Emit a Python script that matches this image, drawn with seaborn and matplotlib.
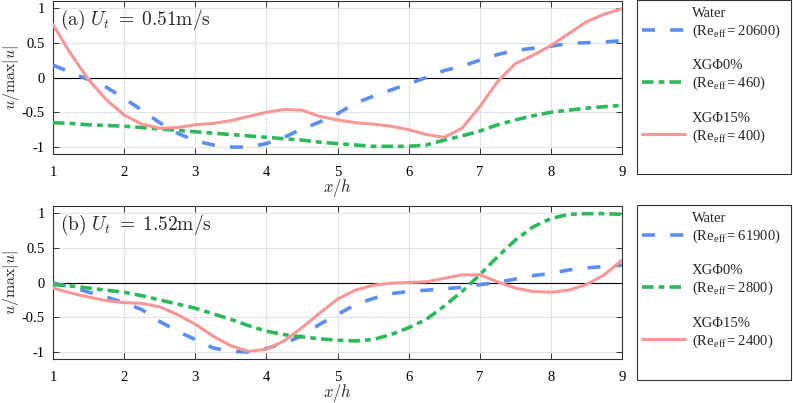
"""Normalised velocity profiles u/max|u| along x/h for two tip speeds."""

import matplotlib

matplotlib.use("Agg")

import matplotlib.pyplot as plt
import pandas as pd
import seaborn as sns
from matplotlib.patches import Rectangle

# --- data -------------------------------------------------------------------
x_pos = [1.0, 1.25, 1.5, 1.75, 2.0, 2.25, 2.5, 2.75, 3.0, 3.25, 3.5, 3.75, 4.0,
         4.25, 4.5, 4.75, 5.0, 5.25, 5.5, 5.75, 6.0, 6.25, 6.5, 6.75, 7.0,
         7.25, 7.5, 7.75, 8.0, 8.25, 8.5, 8.75, 9.0]

# panel (a), U_t = 0.51 m/s
water_a = [0.18, 0.07, -0.03, -0.14, -0.3, -0.47, -0.65, -0.8, -0.91, -0.97,
           -1.0, -1.0, -0.95, -0.86, -0.74, -0.64, -0.52, -0.37, -0.27, -0.18,
           -0.09, 0.0, 0.1, 0.16, 0.25, 0.33, 0.39, 0.42, 0.45, 0.49, 0.5,
           0.51, 0.53]
xg0_a = [-0.65, -0.66, -0.68, -0.69, -0.7, -0.72, -0.74, -0.76, -0.78, -0.8,
         -0.82, -0.84, -0.86, -0.88, -0.9, -0.93, -0.95, -0.97, -0.99, -0.99,
         -0.99, -0.97, -0.9, -0.84, -0.77, -0.68, -0.61, -0.55, -0.5, -0.47,
         -0.44, -0.42, -0.4]
xg15_a = [0.76, 0.34, -0.03, -0.32, -0.54, -0.67, -0.73, -0.72, -0.68, -0.66,
          -0.62, -0.56, -0.5, -0.46, -0.47, -0.56, -0.61, -0.65, -0.67, -0.7,
          -0.75, -0.82, -0.86, -0.73, -0.42, -0.06, 0.2, 0.32, 0.46, 0.63,
          0.8, 0.91, 0.99]

# panel (b), U_t = 1.52 m/s
water_b = [-0.01, -0.06, -0.14, -0.21, -0.29, -0.39, -0.56, -0.7, -0.82, -0.94,
           -0.99, -1.0, -0.95, -0.87, -0.77, -0.6, -0.46, -0.32, -0.23, -0.16,
           -0.13, -0.11, -0.09, -0.07, -0.03, 0.0, 0.05, 0.1, 0.13, 0.18, 0.21,
           0.23, 0.25]
xg0_b = [-0.03, -0.05, -0.08, -0.11, -0.14, -0.19, -0.25, -0.31, -0.37, -0.45,
         -0.53, -0.62, -0.7, -0.75, -0.78, -0.81, -0.83, -0.84, -0.82, -0.75,
         -0.65, -0.53, -0.34, -0.13, 0.11, 0.37, 0.61, 0.8, 0.92, 0.98, 0.99,
         0.99, 0.98]
xg15_b = [-0.08, -0.15, -0.21, -0.26, -0.29, -0.3, -0.35, -0.46, -0.6, -0.77,
          -0.91, -0.99, -0.96, -0.84, -0.65, -0.44, -0.24, -0.11, -0.04, -0.01,
          0.0, 0.01, 0.06, 0.11, 0.11, 0.01, -0.08, -0.13, -0.14, -0.11, -0.03,
          0.11, 0.32]

series_names = ["Water", "XG\u03a60%", "XG\u03a615%"]
re_eff_a = ["20600", "460", "400"]
re_eff_b = ["61900", "2800", "2400"]
panel_titles = [r"$\mathrm{(a)}\ U_t\;=\;0.51\mathrm{m/s}$",
                r"$\mathrm{(b)}\ U_t\;=\;1.52\mathrm{m/s}$"]

x_ticks = [1, 2, 3, 4, 5, 6, 7, 8, 9]
y_ticks = [-1, -0.5, 0, 0.5, 1]
y_tick_labels = ["-1", "-0.5", "0", "0.5", "1"]

# --- styling ----------------------------------------------------------------
colors = ["#5b8ef0", "#2db85c", "#f99696"]
styles = [(0, (3.6, 4.2)), (0, (3.2, 1.4, 1.6, 1.4)), "-"]
widths = [2.6, 2.6, 2.2]

sns.set_theme(style="ticks")
plt.rcParams.update(
    {
        "font.family": ["Liberation Serif", "DejaVu Serif"],
        "mathtext.fontset": "cm",
        "axes.unicode_minus": False,
        "axes.edgecolor": "#333333",
        "axes.linewidth": 0.8,
        "xtick.direction": "in",
        "ytick.direction": "in",
        "xtick.top": True,
        "ytick.right": True,
        "xtick.major.size": 4,
        "ytick.major.size": 4,
        "xtick.major.width": 0.7,
        "ytick.major.width": 0.7,
        "xtick.major.pad": 8.5,
        "ytick.major.pad": 6,
        "xtick.labelsize": 10.5,
        "ytick.labelsize": 10.5,
        "xtick.color": "#333333",
        "ytick.color": "#333333",
        "xtick.labelcolor": "black",
        "ytick.labelcolor": "black",
        "lines.solid_joinstyle": "round",
        "lines.dash_joinstyle": "round",
    }
)

W, H = 793, 403
fig = plt.figure(figsize=(W / 100, H / 100), dpi=100)
ax_a = fig.add_axes([53 / W, 1 - 154 / H, 569 / W, 153 / H])
ax_b = fig.add_axes([53 / W, 1 - 359 / H, 569 / W, 153 / H])


def draw_panel(ax, values, title, re_labels, box_top, box_bottom):
    frame = pd.DataFrame({"x": x_pos})
    handles = []
    for name, vals, col, ls, lw in zip(series_names, values, colors, styles, widths):
        frame[name] = vals
        sns.lineplot(data=frame, x="x", y=name, color=col, linestyle=ls,
                     linewidth=lw, errorbar=None, ax=ax, zorder=3)
        handles.append(ax.get_lines()[-1])
    ax.axhline(0, color="black", linewidth=0.8, zorder=2)
    ax.set_xlim(1, 9)
    ax.set_ylim(-1.1, 1.1)
    ax.set_xticks(x_ticks)
    ax.set_yticks(y_ticks, labels=y_tick_labels)
    ax.grid(True, color="#e3e3e3", linewidth=0.8)
    ax.set_axisbelow(True)
    ax.set_xlabel(r"$x/h$", fontsize=12, labelpad=-1)
    ax.set_ylabel(r"$u/\max|u|$", fontsize=11.5)
    ax.yaxis.set_label_coords(-(53 - 21) / 569, 0.5)
    ax.text(0.012, 0.955, title, transform=ax.transAxes, fontsize=14,
            ha="left", va="top")

    # legend box sits beside the axes, spanning roughly its height
    fig.patches.append(
        Rectangle((637 / W, 1 - box_bottom / H), 154 / W, (box_bottom - box_top) / H,
                  transform=fig.transFigure, facecolor="white",
                  edgecolor="#333333", linewidth=0.8)
    )
    labels = [f"{n}\n(Re$_\\mathregular{{eff}}$= {r})"
              for n, r in zip(series_names, re_labels)]
    leg = fig.legend(
        handles, labels,
        loc="upper left",
        bbox_to_anchor=(642 / W, 1 - (box_top + 7) / H),
        fontsize=10.5,
        handlelength=2.95,
        handletextpad=0.45,
        labelspacing=1.35,
        borderpad=0,
        borderaxespad=0,
        frameon=False,
    )
    for txt in leg.get_texts():
        txt.set_linespacing(1.2)
    # put the handle level with the second text line, like the original
    for column in leg._legend_handle_box.get_children():
        for row in column.get_children():
            for child in row.get_children():
                if hasattr(child, "set_multilinebaseline"):
                    child.set_multilinebaseline(False)


draw_panel(ax_a, [water_a, xg0_a, xg15_a], panel_titles[0], re_eff_a, 0, 174)
draw_panel(ax_b, [water_b, xg0_b, xg15_b], panel_titles[1], re_eff_b, 205, 380)

fig.savefig("out.png", dpi=100)
